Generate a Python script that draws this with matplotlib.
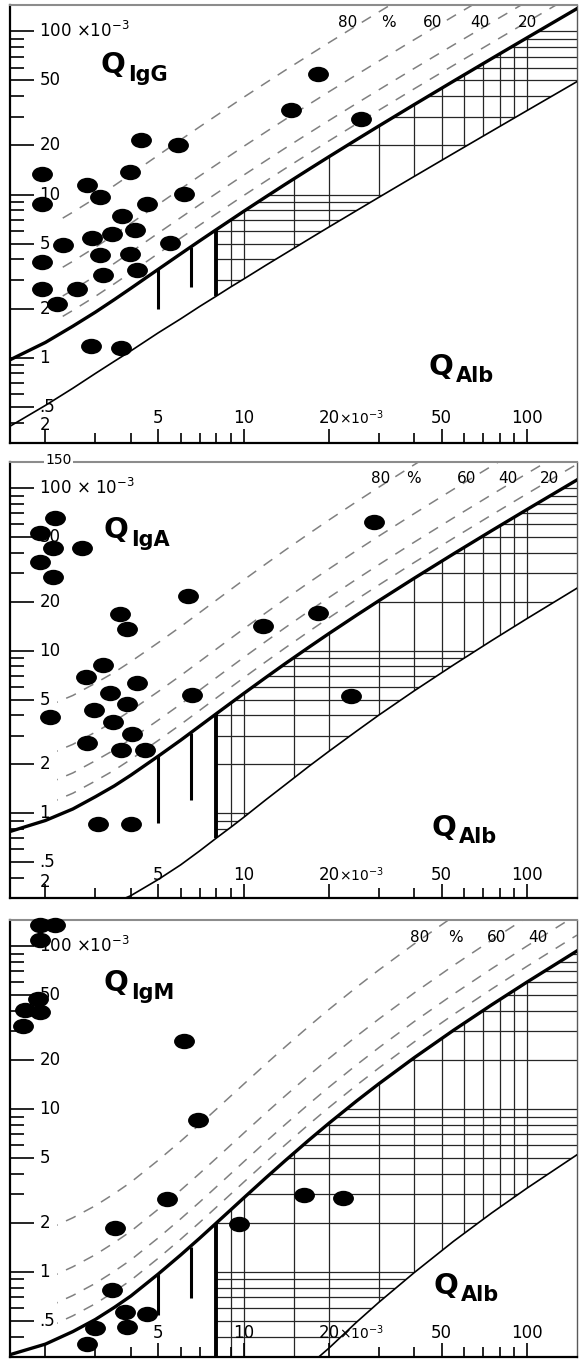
import numpy as np
import matplotlib.pyplot as plt
from matplotlib.patches import Polygon, Rectangle
from matplotlib.path import Path
from matplotlib.transforms import Affine2D, blended_transform_factory

# QAlb values (x 10^-3) at which the limit curves were read
qalb = [1.5, 2, 2.5, 3, 3.5, 4, 5, 6, 7, 8, 9, 10, 12, 14, 17, 20, 25, 30, 40, 55, 75, 100, 150]

# IgG
igg_upper = [0.97, 1.24, 1.56, 1.90, 2.27, 2.66, 3.48, 4.33, 5.20, 6.08, 6.97, 7.88, 9.69, 11.52,
             14.27, 17.04, 21.66, 26.29, 35.57, 49.50, 68.09, 91.33, 137.8]
igg_lower_x = qalb
igg_lower = [0.38, 0.51, 0.65, 0.80, 0.95, 1.10, 1.42, 1.73, 2.06, 2.38, 2.71, 3.03, 3.69, 4.34,
             5.33, 6.32, 7.96, 9.61, 12.91, 17.86, 24.45, 32.70, 49.20]
igg_x = [14.7, 4.33, 5.89, 1.95, 3.98, 2.81, 3.12, 6.14, 1.95, 4.58, 3.74, 3.44, 4.15, 2.92,
         2.31, 5.52, 1.95, 3.12, 3.98, 3.20, 4.22, 1.95, 2.59, 2.20, 2.90, 3.70, 18.3, 25.9]
igg_y = [33.0, 21.6, 20.2, 13.4, 13.8, 11.5, 9.7, 10.1, 8.7, 8.8, 7.34, 5.7, 6.1, 5.4,
         4.9, 5.03, 3.85, 4.25, 4.3, 3.2, 3.44, 2.64, 2.64, 2.13, 1.18, 1.15, 54.8, 29.1]

# IgA
iga_upper = [0.77, 0.90, 1.06, 1.26, 1.47, 1.71, 2.24, 2.81, 3.43, 4.08, 4.75, 5.44, 6.85, 8.30,
             10.50, 12.74, 16.50, 20.29, 27.92, 39.41, 54.77, 73.99, 112.5]
iga_lower_x = [3.5, 4, 5, 6, 7, 8, 9, 10, 12, 14, 17, 20, 25, 30, 40, 55, 75, 100, 150]
iga_lower = [0.28, 0.31, 0.39, 0.48, 0.585, 0.70, 0.816, 0.94, 1.21, 1.49, 1.94, 2.40, 3.19,
             4.01, 5.66, 8.16, 11.53, 15.76, 24.24]
iga_x = [2.17, 1.92, 2.13, 2.70, 1.92, 2.13, 6.39, 3.67, 3.89, 11.7, 3.18, 2.77, 4.22, 3.39,
         6.6, 2.08, 2.96, 3.89, 3.47, 4.05, 2.81, 3.71, 4.5, 3.07, 4.02, 28.8, 18.3, 23.9]
iga_y = [65.6, 53.2, 43.0, 43.0, 34.9, 28.3, 21.6, 16.8, 13.6, 14.2, 8.2, 6.84, 6.29, 5.47,
         5.3, 3.9, 4.3, 4.7, 3.64, 3.08, 2.71, 2.46, 2.46, 0.857, 0.857, 62.0, 17.1, 5.24]

# IgM
igm_upper = [0.31, 0.36, 0.43, 0.51, 0.605, 0.71, 0.97, 1.27, 1.61, 1.99, 2.40, 2.84, 3.79, 4.81,
             6.45, 8.18, 11.19, 14.30, 20.69, 30.47, 43.68, 60.30, 93.67]
igm_lower_x = [18, 20, 25, 30, 40, 55, 75, 100, 150]
igm_lower = [0.29, 0.34, 0.49, 0.65, 0.99, 1.54, 2.30, 3.27, 5.24]
igm_x = [1.92, 2.17, 1.92, 1.89, 1.70, 1.92, 1.67, 6.14, 6.93, 5.39, 3.53, 9.6, 3.44, 3.83,
         4.58, 3.0, 3.89, 2.81, 16.3, 22.4]
igm_y = [136, 136, 110, 47.7, 40.4, 39.3, 32.3, 26.2, 8.58, 2.81, 1.85, 1.98, 0.776, 0.57,
         0.55, 0.45, 0.46, 0.36, 2.97, 2.85]

# intrathecal fraction lines (%)
fractions = [20, 40, 60, 80]
# age dependent QAlb limits and the bars drawn there
age_limits = [5, 6.5, 8]
igg_bar_top = [3.48, 4.76, 6.08]
igg_bar_bottom = [2.0, 2.7, 2.38]
iga_bar_top = [2.24, 3.12, 4.08]
iga_bar_bottom = [0.87, 1.2, 0.70]
igm_bar_top = [0.97, 1.43, 1.99]
igm_bar_bottom = [0.54, 0.69, 0.3]

ytick_vals = [100, 50, 20, 10, 5, 2, 1, 0.5]
ytick_minor = [0.3, 0.4, 0.6, 0.7, 0.8, 0.9, 3, 4, 6, 7, 8, 9, 30, 40, 60, 70, 80, 90]
xtick_vals = [2, 5, 10, 20, 50, 100]
xtick_minor = [3, 4, 6, 7, 8, 9, 30, 40, 60, 70, 80, 90]
grid_x = [8, 9, 10, 15, 20, 30, 40, 50, 60, 70, 80, 90, 100]
grid_y = [k * 10.0 ** e for e in (-1, 0, 1, 2) for k in range(1, 10)]

XMIN, XMAX = 1.5, 150
YMIN, YMAX = 0.3, 145

W, H = 579, 1360
fig = plt.figure(figsize=(W / 100, H / 100), dpi=100)

dot = Path.unit_circle().transformed(Affine2D().scale(1.0, 0.72))


def frac(px, py):
    return px / W, 1 - py / H


def panel(box, up, lo_x, lo, bar_top, bar_bottom, dx, dy, name, qpos, albpos,
          pct, pct_y, xlab_y, first_lab, show2, top100):
    x0, y0, x1, y1 = box
    ax = fig.add_axes([x0 / W, 1 - y1 / H, (x1 - x0) / W, (y1 - y0) / H])
    ax.set_xscale('log')
    ax.set_yscale('log')
    ax.set_xlim(XMIN, XMAX)
    ax.set_ylim(YMIN, YMAX)

    # barrier dysfunction area with grid
    ux = [x for x in qalb if x >= 8]
    uy = [y for x, y in zip(qalb, up) if x >= 8]
    lx = [x for x in lo_x if x >= 8]
    ly = [max(y, YMIN) for x, y in zip(lo_x, lo) if x >= 8]
    verts = list(zip(ux, uy)) + list(zip(lx[::-1], ly[::-1])) + [(8, ly[0])]
    area = Polygon(verts, closed=True, transform=ax.transData)
    for gx in grid_x:
        ln = ax.axvline(gx, color='0.15', lw=0.9, zorder=1)
        ln.set_clip_path(area)
    for gy in grid_y:
        ln = ax.axhline(gy, color='0.15', lw=0.9, zorder=1)
        ln.set_clip_path(area)

    # dashed intrathecal fraction lines, kept inside the frame
    clip = Rectangle((2.2, YMIN), XMAX - 2.2, YMAX - YMIN, transform=ax.transData)
    for f in fractions:
        yy = [u / (1 - f / 100) for u in up]
        ln, = ax.plot(qalb, yy, color='0.5', lw=1.1, dashes=(7, 6), zorder=2)
        ln.set_clip_path(clip)

    ax.plot(qalb, up, color='black', lw=2.4, zorder=3)
    ax.plot(lo_x, lo, color='black', lw=1.2, zorder=3)

    for i, a in enumerate(age_limits):
        ax.plot([a, a], [bar_bottom[i], bar_top[i]], color='black',
                lw=2.2 if i < 2 else 2.8, solid_capstyle='butt', zorder=3)

    ax.plot(dx, dy, linestyle='none', marker=dot, markersize=14,
            color='black', zorder=5, clip_on=False)

    # axes look
    for s in ['left', 'bottom']:
        ax.spines[s].set_linewidth(1.6)
        ax.spines[s].set_color('black')
    ax.spines['top'].set_color('0.55')
    ax.spines['top'].set_linewidth(1.5)
    ax.spines['right'].set_color('0.35')
    ax.spines['right'].set_linewidth(1.0)

    ax.set_yticks(ytick_vals)
    ax.set_yticks(ytick_minor, minor=True)
    ax.set_xticks(xtick_vals)
    ax.set_xticks(xtick_minor, minor=True)
    ax.tick_params(which='both', direction='in', labelleft=False, labelbottom=False,
                   top=False, right=False, width=1.2, color='black')
    ax.tick_params(axis='y', which='major', length=17)
    ax.tick_params(axis='y', which='minor', length=10)
    ax.tick_params(axis='x', which='major', length=10)
    ax.tick_params(axis='x', which='minor', length=7)

    ty = blended_transform_factory(ax.transAxes, ax.transData)
    tx = blended_transform_factory(ax.transData, ax.transAxes)
    for v in ytick_vals:
        if v == 100:
            s = top100
        elif v == 0.5:
            s = '.5'
        else:
            s = '%g' % v
        ax.text(0.052, v, s, transform=ty, ha='left', va='center', fontsize=12,
                zorder=4)
    if name == 'IgA':
        ax.text(0.062, 150, '150', transform=ty, ha='left', va='center', fontsize=10,
                zorder=4, clip_on=False,
                bbox=dict(facecolor='white', edgecolor='none', pad=1))

    for v in xtick_vals:
        if v == 2 and not show2:
            continue
        yl = first_lab if v == 2 else xlab_y
        ax.text(v, yl, '%g' % v, transform=tx, ha='center', va='center', fontsize=12,
                zorder=4)
        if v == 20:
            ax.annotate('×10$^{-3}$', xy=(v, yl), xycoords=tx, xytext=(7, 0),
                        textcoords='offset points', ha='left', va='center', fontsize=10)

    for (lab, px) in pct:
        ax.text(px, pct_y, lab, transform=ax.transAxes, ha='center', va='center',
                fontsize=11)

    # Q labels
    qx, qy = frac(*qpos)
    fig.text(qx, qy, 'Q', fontsize=21, fontweight='bold', ha='center', va='center')
    sx, sy = frac(qpos[0] + 15, qpos[1] + 10)
    fig.text(sx, sy, name, fontsize=15, fontweight='bold', ha='left', va='center')
    qx, qy = frac(*albpos)
    fig.text(qx, qy, 'Q', fontsize=21, fontweight='bold', ha='center', va='center')
    sx, sy = frac(albpos[0] + 15, albpos[1] + 9)
    fig.text(sx, sy, 'Alb', fontsize=15, fontweight='bold', ha='left', va='center')
    return ax


panel([10, 5, 577, 443], igg_upper, igg_lower_x, igg_lower, igg_bar_top, igg_bar_bottom,
      igg_x, igg_y, 'IgG', (113, 65), (441, 367),
      [('80', 0.596), ('%', 0.667), ('60', 0.746), ('40', 0.829), ('20', 0.912)], 0.959,
      0.057, 0.041, True, '100 ×10$^{-3}$')

panel([10, 462, 577, 898], iga_upper, iga_lower_x, iga_lower, iga_bar_top, iga_bar_bottom,
      iga_x, iga_y, 'IgA', (116, 530), (444, 828),
      [('80', 0.653), ('%', 0.711), ('60', 0.806), ('40', 0.878), ('20', 0.952)], 0.963,
      0.053, 0.037, True, '100 × 10$^{-3}$')

panel([10, 920, 577, 1357], igm_upper, igm_lower_x, igm_lower, igm_bar_top, igm_bar_bottom,
      igm_x, igm_y, 'IgM', (116, 983), (446, 1286),
      [('80', 0.723), ('%', 0.785), ('60', 0.859), ('40', 0.931)], 0.961,
      0.055, 0.055, False, '100 ×10$^{-3}$')

fig.savefig('out.png', dpi=100)
